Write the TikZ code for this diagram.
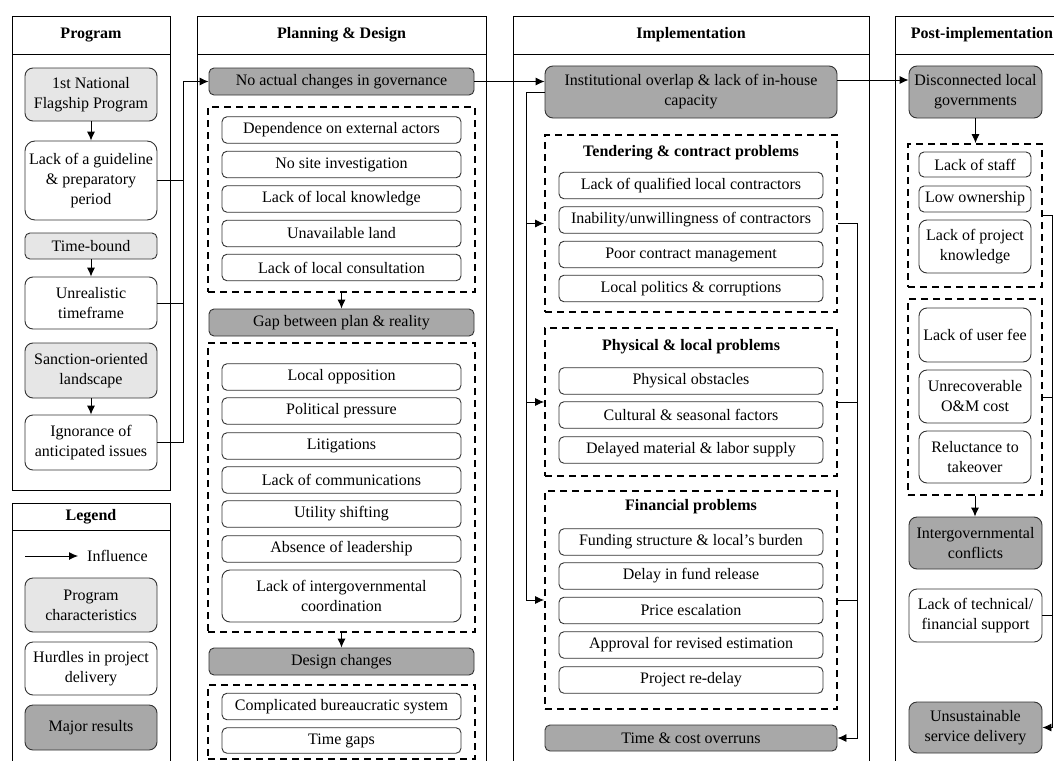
\documentclass[tikz,border=0pt]{standalone}
\usepackage{fontspec}
\setmainfont{Liberation Serif}
\usetikzlibrary{arrows.meta}
\definecolor{lgray}{HTML}{E6E6E6}
\definecolor{dgray}{HTML}{A8A8A8}
\definecolor{edgec}{HTML}{333333}
\begin{document}
\begin{tikzpicture}[x=1pt,y=-1pt,
 font=\fontsize{16}{20}\selectfont,
 base/.style={draw=edgec, line width=0.9pt, rounded corners=5pt, align=center, inner sep=1pt},
 wbox/.style={base, fill=white},
 lbox/.style={base, fill=lgray},
 dbox/.style={base, fill=dgray},
 grp/.style={draw=black, line width=1.8pt, dash pattern=on 7pt off 5pt, inner sep=0pt},
 frame/.style={draw=black, line width=0.8pt},
 head/.style={font=\fontsize{16}{20}\selectfont\bfseries, inner sep=1pt},
 arr/.style={draw=black, line width=0.9pt, -{Latex[length=9pt,width=8pt]}},
 ln/.style={draw=black, line width=0.9pt},
]
\useasboundingbox (0,0) rectangle (1054,760);
\clip (0,0) rectangle (1054,760);
\fill[white] (0,0) rectangle (1054,760);

% ---------- frames ----------
\draw[frame] (12,16) rectangle (170,490); \draw[frame] (12,54) -- (170,54);
\draw[frame] (12,503) rectangle (170,790); \draw[frame] (12,530) -- (170,530);
\draw[frame] (197,16) rectangle (486,790); \draw[frame] (197,54) -- (486,54);
\draw[frame] (513,16) rectangle (869,790); \draw[frame] (513,54) -- (869,54);
\draw[frame] (895,16) rectangle (1070,790); \draw[frame] (895,54) -- (1070,54);

\node[head] (hprog) at (91,35) {Program};
\node[head] (hleg) at (91,516.5) {Legend};
\node[head] (hplan) at (341.5,35) {Planning \& Design};
\node[head] (himp) at (691,35) {Implementation};
\node[head] (hpost) at (982,35) {Post-implementation};

% ---------- Program column ----------
\node[lbox, minimum width=132, minimum height=53, rounded corners=8pt] (p1) at (91,94.5) {1st National\\Flagship Program};
\node[wbox, minimum width=132, minimum height=79, rounded corners=10pt] (p2) at (91,180.5) {Lack of a guideline\\\& preparatory\\period};
\node[lbox, minimum width=132, minimum height=26] (p3) at (91,246) {Time-bound};
\node[wbox, minimum width=132, minimum height=52, rounded corners=8pt] (p4) at (91,303) {Unrealistic\\timeframe};
\node[lbox, minimum width=132, minimum height=55, rounded corners=8pt] (p5) at (91,370.5) {Sanction-oriented\\landscape};
\node[wbox, minimum width=132, minimum height=55, rounded corners=8pt] (p6) at (91,442.5) {Ignorance of\\anticipated issues};
\draw[arr] (p1) -- (p2);
\draw[arr] (p3) -- (p4);
\draw[arr] (p5) -- (p6);

% ---------- Legend ----------
\coordinate (lg0) at (25,556);
\node[anchor=west, inner sep=0pt] (linf) at (87,556) {Influence};
\draw[arr] (lg0) -- ([xshift=-9pt]linf.west);
\node[lbox, minimum width=132, minimum height=54, rounded corners=8pt] (l1) at (91,605) {Program\\characteristics};
\node[wbox, minimum width=132, minimum height=53, rounded corners=8pt] (l2) at (91,668.5) {Hurdles in project\\delivery};
\node[dbox, minimum width=132, minimum height=45, rounded corners=8pt] (l3) at (91,727.5) {Major results};

% ---------- Planning & Design ----------
\node[dbox, minimum width=265, minimum height=27] (n1) at (341.5,81.5) {No actual changes in governance};
\node[grp, minimum width=267, minimum height=185] (d1) at (341.5,199.5) {};
\node[wbox, minimum width=239, minimum height=26.5] (a1) at (341.5,130) {Dependence on external actors};
\node[wbox, minimum width=239, minimum height=26.5] (a2) at (341.5,164.5) {No site investigation};
\node[wbox, minimum width=239, minimum height=26.5] (a3) at (341.5,199) {Lack of local knowledge};
\node[wbox, minimum width=239, minimum height=26.5] (a4) at (341.5,233.5) {Unavailable land};
\node[wbox, minimum width=239, minimum height=26.5] (a5) at (341.5,267.5) {Lack of local consultation};
\node[dbox, minimum width=265, minimum height=27] (n2) at (341.5,322.5) {Gap between plan \& reality};
\node[grp, minimum width=267, minimum height=289] (d2) at (341.5,487.5) {};
\node[wbox, minimum width=239, minimum height=26.5] (b1) at (341.5,377) {Local opposition};
\node[wbox, minimum width=239, minimum height=26.5] (b2) at (341.5,411) {Political pressure};
\node[wbox, minimum width=239, minimum height=26.5] (b3) at (341.5,446) {Litigations};
\node[wbox, minimum width=239, minimum height=26.5] (b4) at (341.5,480) {Lack of communications};
\node[wbox, minimum width=239, minimum height=26.5] (b5) at (341.5,514) {Utility shifting};
\node[wbox, minimum width=239, minimum height=26.5] (b6) at (341.5,549) {Absence of leadership};
\node[wbox, minimum width=239, minimum height=52, rounded corners=8pt] (b7) at (341.5,596) {Lack of intergovernmental\\coordination};
\node[dbox, minimum width=265, minimum height=27] (n3) at (341.5,661.5) {Design changes};
\node[grp, minimum width=267, minimum height=74] (d3) at (341.5,722) {};
\node[wbox, minimum width=239, minimum height=26.5] (c1) at (341.5,706.5) {Complicated bureaucratic system};
\node[wbox, minimum width=239, minimum height=25.5] (c2) at (341.5,740.5) {Time gaps};
\draw[arr] (d1.south) -- (n2.north);
\draw[arr] (d2.south) -- (n3.north);

% program -> planning
\coordinate (busP) at (183,81.5);
\draw[arr] (p6.east) -| (busP) -- (n1.west);
\draw[ln] (p2.east) -- (p2.east -| busP);
\draw[ln] (p4.east) -- (p4.east -| busP);

% ---------- Implementation ----------
\node[dbox, minimum width=292, minimum height=52, rounded corners=8pt] (m1) at (691,92) {Institutional overlap \& lack of in-house\\capacity};
\node[grp, minimum width=292, minimum height=177] (e1) at (691,223.5) {};
\node[head] (t1) at (691,153) {Tendering \& contract problems};
\node[wbox, minimum width=264, minimum height=26.5] (e1a) at (691,185.5) {Lack of qualified local contractors};
\node[wbox, minimum width=264, minimum height=26.5] (e1b) at (691,220) {Inability/unwillingness of contractors};
\node[wbox, minimum width=264, minimum height=26.5] (e1c) at (691,254.5) {Poor contract management};
\node[wbox, minimum width=264, minimum height=26.5] (e1d) at (691,288.5) {Local politics \& corruptions};
\node[grp, minimum width=292, minimum height=148] (e2) at (691,402) {};
\node[head] (t2) at (691,347) {Physical \& local problems};
\node[wbox, minimum width=264, minimum height=26.5] (e2a) at (691,381) {Physical obstacles};
\node[wbox, minimum width=264, minimum height=26.5] (e2b) at (691,415) {Cultural \& seasonal factors};
\node[wbox, minimum width=264, minimum height=26.5] (e2c) at (691,450) {Delayed material \& labor supply};
\node[grp, minimum width=292, minimum height=218] (e3) at (691,600) {};
\node[head] (t3) at (691,507) {Financial problems};
\node[wbox, minimum width=264, minimum height=26.5] (e3a) at (691,542) {Funding structure \& local's burden};
\node[wbox, minimum width=264, minimum height=26.5] (e3b) at (691,576) {Delay in fund release};
\node[wbox, minimum width=264, minimum height=26.5] (e3c) at (691,610.5) {Price escalation};
\node[wbox, minimum width=264, minimum height=26.5] (e3d) at (691,645) {Approval for revised estimation};
\node[wbox, minimum width=264, minimum height=26.5] (e3e) at (691,680) {Project re-delay};
\node[dbox, minimum width=292, minimum height=26] (m2) at (691,738) {Time \& cost overruns};

\draw[arr] (n1.east) -- (n1.east -| m1.west);
\coordinate (lb) at (526,92);
\draw[arr] (m1.west) -- (lb) |- (e3.west);
\draw[arr] (e1.west -| lb) -- (e1.west);
\draw[arr] (e2.west -| lb) -- (e2.west);
\coordinate (rb) at (857,223.5);
\draw[arr] (e1.east) -- (rb) |- (m2.east);
\draw[ln] (e2.east) -- (e2.east -| rb);
\draw[ln] (e3.east) -- (e3.east -| rb);

% ---------- Post-implementation ----------
\node[dbox, minimum width=133, minimum height=52, rounded corners=8pt] (q1) at (975.5,92) {Disconnected local\\governments};
\draw[arr] ([yshift=12pt]m1.east) -- ([yshift=12pt]q1.west);
\node[grp, minimum width=134, minimum height=143] (f1) at (975,215.5) {};
\node[wbox, minimum width=112, minimum height=25] (f1a) at (975,164.5) {Lack of staff};
\node[wbox, minimum width=112, minimum height=26] (f1b) at (975,199) {Low ownership};
\node[wbox, minimum width=112, minimum height=53, rounded corners=8pt] (f1c) at (975,246.5) {Lack of project\\knowledge};
\node[grp, minimum width=134, minimum height=196] (f2) at (975,397) {};
\node[wbox, minimum width=112, minimum height=54, rounded corners=8pt] (f2a) at (975,335) {Lack of user fee};
\node[wbox, minimum width=112, minimum height=53, rounded corners=8pt] (f2b) at (975,396.5) {Unrecoverable\\O\&M cost};
\node[wbox, minimum width=112, minimum height=52, rounded corners=8pt] (f2c) at (975,457) {Reluctance to\\takeover};
\node[dbox, minimum width=133, minimum height=52, rounded corners=8pt] (q2) at (975.5,543) {Intergovernmental\\conflicts};
\node[wbox, minimum width=133, minimum height=53, rounded corners=8pt] (q3) at (975.5,615.5) {Lack of technical/\\financial support};
\node[dbox, minimum width=133, minimum height=51, rounded corners=8pt] (q4) at (975.5,727.5) {Unsustainable\\service delivery};
\draw[arr] (q1.south) -- (q1.south |- f1.north);
\draw[arr] (f2.south) -- (f2.south |- q2.north);
\coordinate (pb) at (1052,215.5);
\draw[arr] (f1.east) -- (pb) |- (q4.east);
\draw[ln] (f2.east) -- (f2.east -| pb);
\draw[ln] (q3.east) -- (q3.east -| pb);
\end{tikzpicture}
\end{document}
